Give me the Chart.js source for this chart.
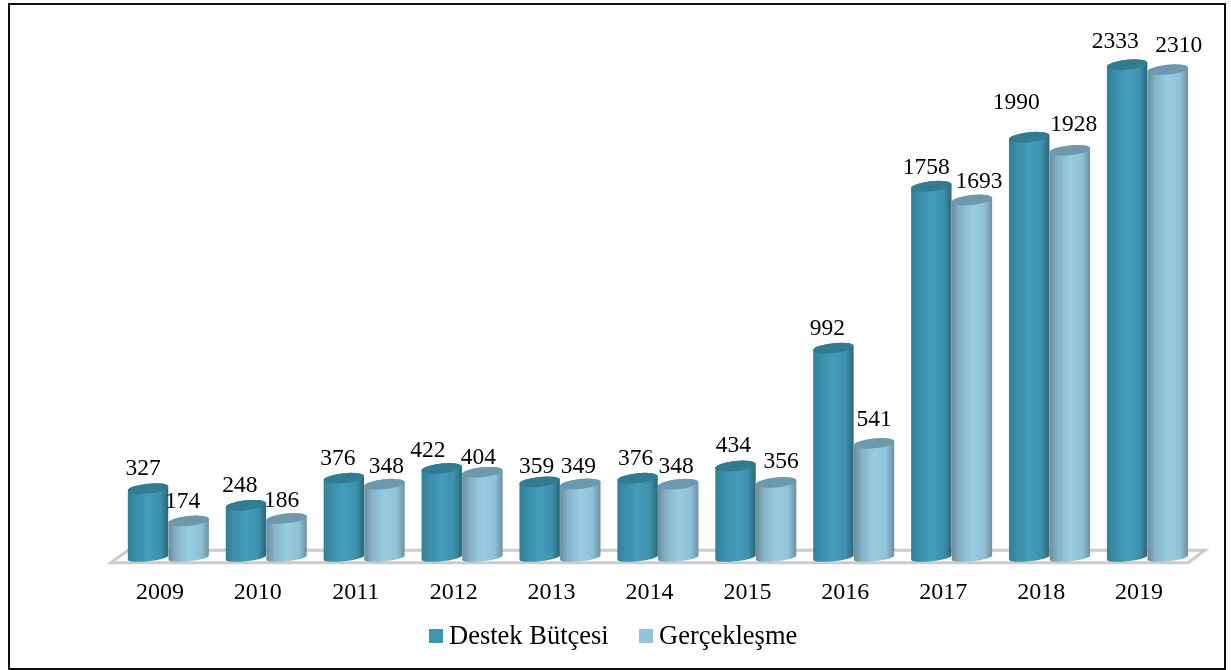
<!DOCTYPE html>
<html>
<head>
<meta charset="utf-8">
<style>
  html, body { margin: 0; padding: 0; background: #fff; }
  canvas { display: block; }
</style>
<script src="https://cdn.jsdelivr.net/npm/chart.js@4"></script>
</head>
<body>
<canvas id="chart" width="1231" height="670"></canvas>
<script>
const years = ['2009', '2010', '2011', '2012', '2013', '2014', '2015', '2016', '2017', '2018', '2019'];
const destekButcesi = [327, 248, 376, 422, 359, 376, 434, 992, 1758, 1990, 2333];
const gerceklesme = [174, 186, 348, 404, 349, 348, 356, 541, 1693, 1928, 2310];

// hand-placed data labels in the original, offset from the top of each bar
const labelNudge = [
  { dx: [-5, -6, -6, -14, -3, -2, -2, -6, -5, -13, -12], dy: [20, 19, 19, 18, 15, 19, 20, 19, 18, 34, 23] },
  { dx: [-6, -5, 2, -4, -2, -2, 5, 0, 7, 4, 11], dy: [19, 18, 17, 15, 17, 17, 21, 24, 18, 26, 24] }
];

const FONT = '"Liberation Serif", "Times New Roman", serif';
const BAR_SHIFT = { x: 8.4, y: -5 };      // bars stand halfway back on the floor
const FLOOR_DEPTH = { x: 17, y: -12.5 };
const TILT = -6 * Math.PI / 180;

const barStyles = [
  { stops: ['#337f97', '#3a8ea9', '#439dba', '#3d92ad', '#2a6578'], top: '#337b90' },
  { stops: ['#6b8b9d', '#86b3c8', '#98cce3', '#8fc2d8', '#6c8fa1'], top: '#6c99ac' }
];
const legendX = [429, 639];

function drawCylinder(ctx, bar, style) {
  const rx = bar.width / 2;
  const top = bar.y, base = bar.base;
  const grad = ctx.createLinearGradient(bar.x - rx, 0, bar.x + rx, 0);
  [0, 0.2, 0.5, 0.8, 1].forEach((p, i) => grad.addColorStop(p, style.stops[i]));

  ctx.beginPath();
  ctx.ellipse(bar.x, base, rx, 3.6, TILT, 0, Math.PI);
  ctx.ellipse(bar.x, top, rx, 5, TILT, Math.PI, Math.PI * 2);
  ctx.closePath();
  ctx.fillStyle = grad;
  ctx.fill();

  ctx.beginPath();
  ctx.ellipse(bar.x, top, rx, 5, TILT, 0, Math.PI * 2);
  ctx.fillStyle = style.top;
  ctx.fill();
}

const cylinderPlugin = {
  id: 'cylinders',
  beforeDraw(chart) {
    const ctx = chart.ctx;
    ctx.save();
    ctx.fillStyle = '#fff';
    ctx.fillRect(0, 0, chart.width, chart.height);
    ctx.strokeStyle = '#111';
    ctx.lineWidth = 2;
    ctx.strokeRect(9, 4, 1216, 665);
    ctx.restore();
  },
  // light bars have to sit over the dark ones, so draw them in dataset order
  beforeDatasetsDraw(chart) {
    const ctx = chart.ctx;
    const area = chart.chartArea;

    ctx.save();
    ctx.beginPath();
    ctx.moveTo(area.left, area.bottom);
    ctx.lineTo(area.right, area.bottom);
    ctx.lineTo(area.right + FLOOR_DEPTH.x, area.bottom + FLOOR_DEPTH.y);
    ctx.lineTo(area.left + FLOOR_DEPTH.x, area.bottom + FLOOR_DEPTH.y);
    ctx.closePath();
    ctx.strokeStyle = '#cccccc';
    ctx.lineWidth = 3;
    ctx.stroke();

    ctx.save();
    ctx.translate(BAR_SHIFT.x, BAR_SHIFT.y);
    [0, 1].forEach(ds => {
      chart.getDatasetMeta(ds).data.forEach(bar => drawCylinder(ctx, bar, barStyles[ds]));
    });

    ctx.font = '23.5px ' + FONT;
    ctx.fillStyle = '#000';
    ctx.textAlign = 'center';
    ctx.textBaseline = 'middle';
    [0, 1].forEach(ds => {
      chart.getDatasetMeta(ds).data.forEach((bar, i) => {
        const value = chart.data.datasets[ds].data[i];
        ctx.fillText(value, bar.x + labelNudge[ds].dx[i], bar.y - labelNudge[ds].dy[i]);
      });
    });
    ctx.restore();

    // legend: the built-in one can't give the tight box/text gap of the original
    ctx.font = '26.5px ' + FONT;
    ctx.textAlign = 'left';
    ctx.textBaseline = 'alphabetic';
    chart.data.datasets.forEach((set, ds) => {
      ctx.fillStyle = set.backgroundColor;
      ctx.fillRect(legendX[ds], 629, 14, 14);
      ctx.fillStyle = '#000';
      ctx.fillText(set.label, legendX[ds] + 20, 644);
    });
    ctx.restore();
    return false;
  }
};

new Chart(document.getElementById('chart'), {
  type: 'bar',
  data: {
    labels: years,
    datasets: [
      { label: 'Destek Bütçesi', data: destekButcesi, backgroundColor: '#3f96b1' },
      { label: 'Gerçekleşme', data: gerceklesme, backgroundColor: '#93c4d9' }
    ]
  },
  plugins: [cylinderPlugin],
  options: {
    responsive: false,
    animation: false,
    layout: { padding: { left: 111, right: 43, top: 34.5, bottom: 54.5 } },
    datasets: { bar: { categoryPercentage: 0.83, barPercentage: 1 } },
    plugins: {
      tooltip: { enabled: false },
      legend: { display: false }
    },
    scales: {
      x: {
        grid: { display: false },
        border: { display: false },
        ticks: { color: '#000', padding: 8, maxRotation: 0, font: { family: FONT, size: 24 } }
      },
      y: { display: false, min: 0, max: 2500 }
    }
  }
});
</script>
</body>
</html>
